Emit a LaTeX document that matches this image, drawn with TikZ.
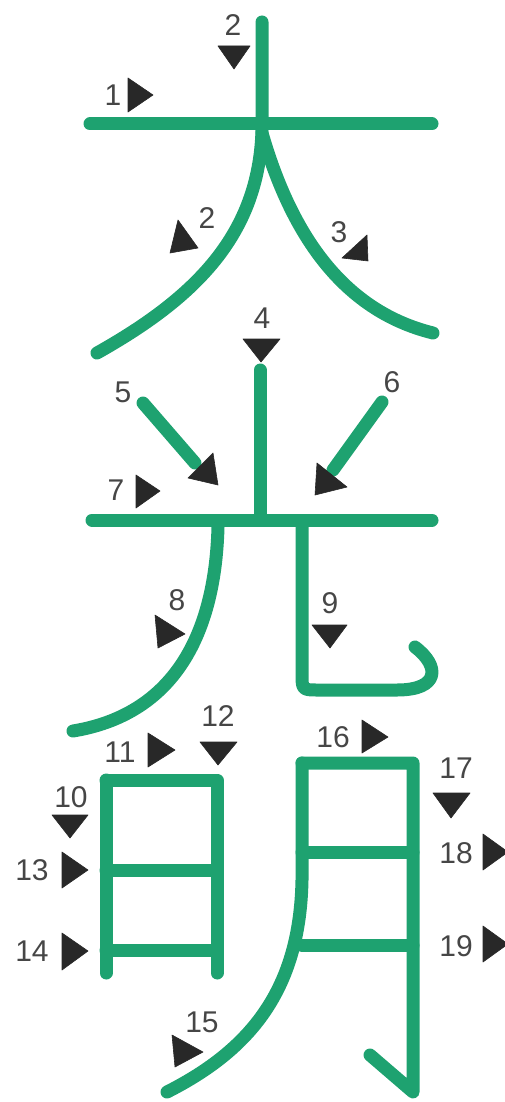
\documentclass[tikz,border=0pt]{standalone}
\usepackage{fontspec}
\setmainfont{Liberation Sans}
\usepackage{tikz}
\definecolor{strkgreen}{RGB}{30,162,112}
\definecolor{trigray}{RGB}{40,40,40}
\definecolor{numgray}{RGB}{70,70,70}

\begin{document}
\begin{tikzpicture}[
  x=1pt, y=-1pt,
  strk/.style={draw=strkgreen, line width=13pt, line cap=round, line join=round},
  tri/.style={fill=trigray, draw=trigray, line width=0.6pt, line join=round},
  numlbl/.style={font=\fontsize{30}{30}\selectfont, text=numgray, inner sep=0pt}
]
\useasboundingbox (0,0) rectangle (505,1102);
\clip (0,0) rectangle (505,1102);

% ── Character 1: 大 ──────────────────────────────────────────
\draw[strk] (90,124) -- (432,124);
\draw[strk] (262,22) -- (262,130) .. controls (259,235) and (195,298) .. (97,353);
\draw[strk] (262,133) .. controls (290,230) and (340,310) .. (433,333);

% ── Character 2: 光 ──────────────────────────────────────────
\draw[strk] (260,370) -- (260,520);
\draw[strk] (143,403) -- (195,463);
\draw[strk] (382,402) -- (333,470);
\draw[strk] (92,520) -- (432,520);
\draw[strk] (218,527) .. controls (215,640) and (170,715) .. (73,731);
\draw[strk] (302,523) -- (302,673) .. controls (302,690) .. (319,690) -- (397,690)
    .. controls (440,690) and (440,666) .. (415,647);

% ── Character 3: 朗 ──────────────────────────────────────────
\draw[strk] (106,780) -- (106,973);
\draw[strk] (106,780) -- (217,780) -- (217,973);
\draw[strk] (106,870) -- (217,870);
\draw[strk] (106,950) -- (217,950);
\draw[strk] (302,763) -- (302,880) .. controls (300,990) and (250,1050) .. (167,1092);
\draw[strk] (302,763) -- (413,763) -- (413,1092) -- (370,1055);
\draw[strk] (302,852) -- (413,852);
\draw[strk] (302,945) -- (413,945);

% ── Direction marks ──────────────────────────────────────────
\filldraw[tri] (128,78) -- (128,112) -- (153,95) -- cycle;
\filldraw[tri] (218,46) -- (250,46) -- (234,69) -- cycle;
\filldraw[tri] (178,220) -- (170,253) -- (198,248) -- cycle;
\filldraw[tri] (367,235) -- (342,258) -- (368,261) -- cycle;
\filldraw[tri] (243,339) -- (280,339) -- (261,362) -- cycle;
\filldraw[tri] (213,453) -- (188,478) -- (218,485) -- cycle;
\filldraw[tri] (317,463) -- (315,495) -- (347,487) -- cycle;
\filldraw[tri] (136,475) -- (136,508) -- (160,491) -- cycle;
\filldraw[tri] (155,615) -- (158,648) -- (185,634) -- cycle;
\filldraw[tri] (312,625) -- (347,625) -- (330,648) -- cycle;
\filldraw[tri] (52,815) -- (88,815) -- (70,838) -- cycle;
\filldraw[tri] (148,733) -- (148,767) -- (175,750) -- cycle;
\filldraw[tri] (200,742) -- (237,742) -- (218,765) -- cycle;
\filldraw[tri] (62,852) -- (62,888) -- (88,870) -- cycle;
\filldraw[tri] (62,933) -- (62,970) -- (88,951) -- cycle;
\filldraw[tri] (172,1035) -- (175,1067) -- (203,1052) -- cycle;
\filldraw[tri] (362,720) -- (362,753) -- (388,737) -- cycle;
\filldraw[tri] (433,793) -- (470,793) -- (451,818) -- cycle;
\filldraw[tri] (483,834) -- (483,870) -- (508,852) -- cycle;
\filldraw[tri] (483,926) -- (483,962) -- (508,944) -- cycle;

% ── Stroke numbers ───────────────────────────────────────────
\node[numlbl] (n1)  at (113,95)   {1};
\node[numlbl] (n2a) at (233,25)   {2};
\node[numlbl] (n2b) at (207,218)  {2};
\node[numlbl] (n3)  at (339,232)  {3};
\node[numlbl] (n4)  at (262,318)  {4};
\node[numlbl] (n5)  at (123,392)  {5};
\node[numlbl] (n6)  at (392,382)  {6};
\node[numlbl] (n7)  at (116,490)  {7};
\node[numlbl] (n8)  at (177,600)  {8};
\node[numlbl] (n9)  at (330,603)  {9};
\node[numlbl] (n10) at (71,797)   {10};
\node[numlbl] (n11) at (120,752)  {11};
\node[numlbl] (n12) at (218,716)  {12};
\node[numlbl] (n13) at (32,870)   {13};
\node[numlbl] (n14) at (32,951)   {14};
\node[numlbl] (n15) at (202,1022) {15};
\node[numlbl] (n16) at (333,737)  {16};
\node[numlbl] (n17) at (456,768)  {17};
\node[numlbl] (n18) at (456,853)  {18};
\node[numlbl] (n19) at (456,946)  {19};

\end{tikzpicture}
\end{document}
